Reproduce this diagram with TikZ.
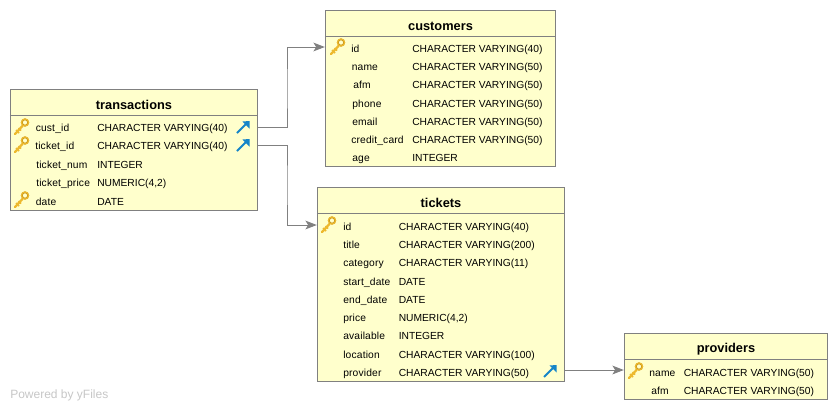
\documentclass[tikz,border=0pt]{standalone}
\usepackage{fontspec}
\setmainfont{Liberation Sans}
\newfontfamily\namefont[LetterSpace=1.6]{Liberation Sans}
\usetikzlibrary{arrows.meta}
\definecolor{boxfill}{HTML}{FFFFCC}
\definecolor{boxline}{HTML}{808080}
\definecolor{keygold}{HTML}{EDB92E}
\definecolor{keydark}{HTML}{C9971A}
\definecolor{fkblue}{HTML}{1585C8}
\tikzset{
  x=0.75pt,y=-0.75pt,
  tablebox/.style={draw=boxline,fill=boxfill,line width=0.75pt,anchor=north west,inner sep=0pt},
  headrule/.style={draw=boxline,line width=0.75pt},
  title/.style={font=\bfseries\fontsize{9.6}{11}\selectfont,inner sep=0pt,text=black},
  cell/.style={font=\fontsize{7.7}{9}\selectfont,anchor=west,inner sep=0pt,text height=5.25pt,text depth=0pt,text=black},
  namecell/.style={cell,font=\namefont\fontsize{7.7}{9}\selectfont},
  link/.style={draw=boxline,line width=0.75pt,-{Stealth[length=8.5pt,width=6.5pt,inset=2pt]}},
  watermark/.style={font=\fontsize{9}{11}\selectfont,anchor=west,inner sep=0pt,text=black!22},
  keyicon/.pic={
    \draw[keygold,line width=1.7pt,line cap=round] (1,15) -- (8.5,7);
    \draw[keygold,line width=1.3pt] (2,11) -- (5,14);
    \draw[keygold,line width=1.3pt] (4.5,9) -- (7,11.5);
    \draw[keydark,line width=1.3pt] (11,3.5) circle[radius=3.2];
    \draw[keygold,line width=0.8pt] (11,3.5) circle[radius=3.6];
  },
  fkicon/.pic={
    \draw[fkblue,line width=1.5pt] (0,12) -- (10,2);
    \fill[fkblue] (12.5,0) -- (12.5,7.5) -- (5.5,0.5) -- cycle;
  },
}
\newcommand{\tablebox}[6]{% name, x, y, w, h, title
  \node[tablebox,minimum width=#4*0.75pt,minimum height=#5*0.75pt] (#1) at (#2-0.7,#3-0.7) {};
  \node[title] (#1title) at (#2+#4/2,#3+15.5) {#6};
  \draw[headrule] (#2-0.7,#3+25.8) -- (#2-0.7+#4,#3+25.8);
}
\newcommand{\cellt}[4]{\node[cell] (#1) at (#2,#3+1) {#4};}
\newcommand{\celln}[4]{\node[namecell] (#1) at (#2,#3+1) {#4};}
\begin{document}
\begin{tikzpicture}
\useasboundingbox (0,0) rectangle (837,411);
\fill[white] (0,0) rectangle (837,411);

\node[watermark] (wm) at (10,395) {Powered by yFiles};

% transactions
\tablebox{tr}{10.5}{89.5}{247}{121}{transactions}
\celln{tra}{35.5}{127}{cust\_id}
\cellt{trat}{97}{127}{CHARACTER VARYING(40)}
\celln{trb}{35}{145}{ticket\_id}
\cellt{trbt}{97}{145}{CHARACTER VARYING(40)}
\celln{trc}{36}{164}{ticket\_num}
\cellt{trct}{97}{164}{INTEGER}
\celln{trd}{36}{182}{ticket\_price}
\cellt{trdt}{97}{182}{NUMERIC(4,2)}
\celln{tre}{35.5}{201}{date}
\cellt{tret}{97}{201}{DATE}
\pic at (14,119) {keyicon};
\pic at (14,137) {keyicon};
\pic at (14,192) {keyicon};
\pic at (237,121) {fkicon};
\pic at (237,139) {fkicon};

% customers
\tablebox{cu}{325.5}{10.5}{230}{156.5}{customers}
\celln{cua}{351}{48}{id}
\cellt{cuat}{412}{48}{CHARACTER VARYING(40)}
\celln{cub}{351.5}{66}{name}
\cellt{cubt}{412}{66}{CHARACTER VARYING(50)}
\celln{cuc}{353}{84}{afm}
\cellt{cuct}{412}{84}{CHARACTER VARYING(50)}
\celln{cud}{352}{103}{phone}
\cellt{cudt}{412}{103}{CHARACTER VARYING(50)}
\celln{cue}{352}{121}{email}
\cellt{cuet}{412}{121}{CHARACTER VARYING(50)}
\celln{cuf}{351}{139}{credit\_card}
\cellt{cuft}{412}{139}{CHARACTER VARYING(50)}
\celln{cug}{352}{157}{age}
\cellt{cugt}{412}{157}{INTEGER}
\pic at (330,39) {keyicon};

% tickets
\tablebox{ti}{317.5}{187.5}{247}{194}{tickets}
\celln{tia}{343}{226}{id}
\cellt{tiat}{398.5}{226}{CHARACTER VARYING(40)}
\celln{tib}{343}{244}{title}
\cellt{tibt}{398.5}{244}{CHARACTER VARYING(200)}
\celln{tic}{343}{262}{category}
\cellt{tict}{398.5}{262}{CHARACTER VARYING(11)}
\celln{tid}{343}{281}{start\_date}
\cellt{tidt}{398.5}{281}{DATE}
\celln{tie}{343}{299}{end\_date}
\cellt{tiet}{398.5}{299}{DATE}
\celln{tif}{343}{317}{price}
\cellt{tift}{398.5}{317}{NUMERIC(4,2)}
\celln{tig}{343}{335}{available}
\cellt{tigt}{398.5}{335}{INTEGER}
\celln{tih}{343}{354}{location}
\cellt{tiht}{398.5}{354}{CHARACTER VARYING(100)}
\celln{tii}{343}{372}{provider}
\cellt{tiit}{398.5}{372}{CHARACTER VARYING(50)}
\pic at (321,217) {keyicon};
\pic at (544,365) {fkicon};

% providers
\tablebox{pr}{624.5}{333.5}{203}{66}{providers}
\celln{pra}{649}{372}{name}
\cellt{prat}{683.5}{372}{CHARACTER VARYING(50)}
\celln{prb}{651}{390}{afm}
\cellt{prbt}{683.5}{390}{CHARACTER VARYING(50)}
\pic at (628,363) {keyicon};

% connectors
\coordinate (bendA) at (287,90);
\coordinate (bendB) at (287,185);
\draw[link] ([yshift=0.75pt]tr.east |- tra.center) -| (bendA) |- ([yshift=1.5pt]cu.west |- cua.center);
\draw[link] ([yshift=0.75pt]tr.east |- trb.center) -| (bendB) |- ([yshift=1.5pt]ti.west |- tia.center);
\draw[link] ([yshift=2.25pt]ti.east |- tii.center) -- ([yshift=2.25pt]pr.west |- pra.center);
\end{tikzpicture}
\end{document}
